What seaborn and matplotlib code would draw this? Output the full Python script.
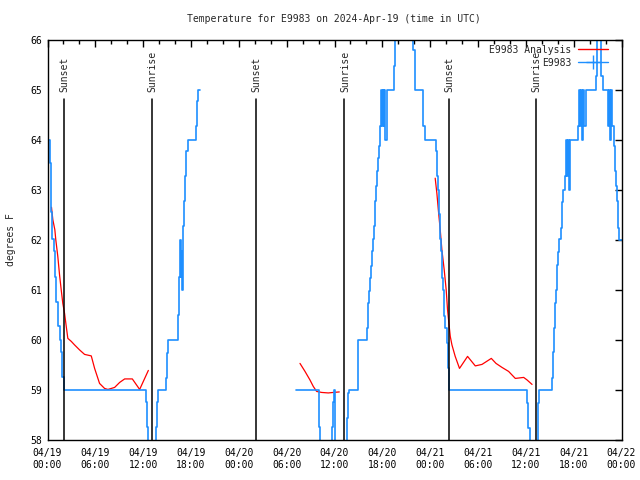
import numpy as np
import pandas as pd
import matplotlib
matplotlib.use("Agg")
import matplotlib.pyplot as plt
from matplotlib.lines import Line2D
from matplotlib.ticker import MultipleLocator
import seaborn as sns

# hours since 2024-04-19 00:00 UTC
# observed station temps (gnuplot "steps"), None = gap in the record
obs_hours = [0, 0.33, 0.46, 0.54, 0.8, 0.92, 1.05, 1.3, 1.55, 1.72, 1.88, 2.01,
             12.3, 12.44, 12.57, 13.6, 13.73, 13.85, 14.87, 15.0, 15.12, 16.4,
             16.55, 16.68, 16.75, 16.82, 16.9, 17.05, 17.17, 17.3, 17.42, 17.68,
             18.64, 18.77, 18.93, 19.14,
             None,
             31.16, 34.0, 34.1, 34.22, 35.7, 35.82, 35.95, 36.1, 37.6, 37.73, 37.86,
             38.9, 39.0, 40.1, 40.25, 40.37, 40.5, 40.63, 40.75, 40.88, 41.0, 41.12,
             41.25, 41.38, 41.5, 41.63, 41.76, 41.88, 41.95, 42.05, 42.15, 42.25,
             42.35, 42.56, 43.44, 43.6, 45.9, 46.15, 47.08, 47.15, 47.4, 48.7, 48.84,
             48.97, 49.09, 49.2, 49.34, 49.47, 49.6, 49.72, 49.84, 50.1, 50.22, 50.35,
             60.2, 60.33, 60.5, 61.5, 61.7, 63.25, 63.37, 63.5, 63.62, 63.75, 63.87,
             64.0, 64.12, 64.37, 64.5, 64.62, 64.87, 65.0, 65.12, 65.25, 65.37, 65.5,
             65.7, 66.5, 66.62, 66.75, 66.87, 67.0, 67.12, 67.25, 67.5, 68.8, 68.92,
             69.45, 69.7, 70.33, 70.45, 70.58, 70.7, 70.82, 71.05, 71.2, 71.32, 71.45,
             71.57, 71.7, 72.0]
obs_temps = [64.0, 63.53, 62.55, 62.01, 61.77, 61.25, 60.75, 60.27, 60.0, 59.75, 59.25, 59.0,
             58.75, 58.25, 57.5, 58.25, 58.75, 59.0, 59.23, 59.73, 60.0, 60.5,
             61.25, 62.0, 61.25, 61.77, 61.0, 62.27, 62.77, 63.27, 63.77, 64.0,
             64.27, 64.77, 65.0, 65.0,
             None,
             59.0, 58.75, 58.25, 57.5, 58.25, 58.75, 59.0, 57.5, 58.44, 58.93, 59.0,
             59.43, 60.0, 60.23, 60.73, 60.98, 61.23, 61.48, 61.77, 62.01, 62.27, 62.77,
             63.07, 63.38, 63.63, 63.87, 64.27, 65.0, 64.27, 65.0, 64.27, 65.0,
             64.0, 65.0, 65.47, 66.5, 65.8, 65.0, 64.77, 64.27, 64.0, 63.77, 63.27,
             63.0, 62.52, 62.01, 61.77, 61.23, 61.0, 60.48, 60.23, 59.93, 59.43, 59.0,
             58.73, 58.23, 57.5, 58.73, 59.0, 59.23, 59.75, 60.23, 60.73, 61.0, 61.5,
             61.75, 62.01, 62.23, 62.75, 63.0, 63.27, 64.0, 63.27, 64.0, 63.0, 64.0,
             64.0, 64.27, 65.0, 64.27, 65.0, 64.0, 65.0, 64.27, 65.0, 65.27, 66.5,
             65.27, 65.0, 64.27, 65.0, 64.0, 65.0, 64.27, 63.87, 63.37, 63.08, 62.77,
             62.23, 62.0, 62.0]

# analysis temps (plain lines), None = gap
ana_hours = [0.5, 0.67, 0.92, 1.04, 1.29, 1.51, 1.72, 1.92, 2.14, 2.35, 2.55, 2.98, 3.39,
             4.02, 4.65, 5.49, 5.91, 6.53, 7.16, 7.58, 8.42, 9.05, 9.68, 10.64, 11.56,
             12.19, 12.65,
             None,
             31.67, 32.3, 32.92, 33.34, 33.76, 34.39, 35.22, 35.85, 36.6,
             None,
             48.63, 48.84, 49.04, 49.26, 49.47, 49.76, 50.01, 50.18, 50.35, 50.52, 50.73,
             51.14, 51.68, 52.69, 53.66, 54.5, 55.67, 56.26, 57.01, 57.84, 58.68, 59.73,
             60.15, 60.78]
ana_temps = [62.65, 62.4, 62.2, 62.0, 61.67, 61.3, 61.0, 60.73, 60.53, 60.27, 60.03, 59.97, 59.9,
             59.8, 59.71, 59.68, 59.43, 59.13, 59.03, 59.01, 59.05, 59.15, 59.22, 59.22, 59.01,
             59.23, 59.39,
             None,
             59.53, 59.37, 59.2, 59.07, 58.97, 58.95, 58.94, 58.95, 58.96,
             None,
             63.23, 62.93, 62.57, 62.2, 61.8, 61.4, 61.0, 60.6, 60.33, 60.07, 59.9,
             59.67, 59.43, 59.67, 59.48, 59.51, 59.63, 59.53, 59.45, 59.37, 59.23, 59.25,
             59.2, 59.11]

sun_hours = [2.05, 13.1, 26.14, 37.23, 50.3, 61.23]
sun_labels = ["Sunset", "Sunrise", "Sunset", "Sunrise", "Sunset", "Sunrise"]

tick_hours = list(range(0, 73, 6))
tick_labels = ["04/19\n00:00", "04/19\n06:00", "04/19\n12:00", "04/19\n18:00",
               "04/20\n00:00", "04/20\n06:00", "04/20\n12:00", "04/20\n18:00",
               "04/21\n00:00", "04/21\n06:00", "04/21\n12:00", "04/21\n18:00",
               "04/22\n00:00"]

BLUE = "#1e8fff"
RED = "#ff0000"


def segments(hours, temps):
    # split the lists at None into separate frames
    out, cur = [], []
    for h, t in zip(hours, temps):
        if h is None:
            out.append(pd.DataFrame(cur, columns=["hour", "temp"]))
            cur = []
        else:
            cur.append((h, t))
    out.append(pd.DataFrame(cur, columns=["hour", "temp"]))
    return out


sns.set_theme(style="white")
plt.rcParams.update({
    "font.family": ["DejaVu Sans Mono"],
    "font.size": 7,
    "axes.edgecolor": "black",
    "axes.linewidth": 1.0,
    "xtick.direction": "in", "ytick.direction": "in",
    "xtick.top": True, "ytick.right": True,
    "xtick.color": "black", "ytick.color": "black",
})

fig = plt.figure(figsize=(6.4, 4.8), dpi=100)
ax = fig.add_axes([47.5 / 640, 1 - 440 / 480, 574 / 640, 400.5 / 480])

for seg in segments(ana_hours, ana_temps):
    sns.lineplot(data=seg, x="hour", y="temp", ax=ax, color=RED, linewidth=0.9)

for seg in segments(obs_hours, obs_temps):
    sns.lineplot(data=seg, x="hour", y="temp", ax=ax, color=BLUE, linewidth=1.2,
                 drawstyle="steps-post")

for h, lab in zip(sun_hours, sun_labels):
    ax.plot([h, h], [58, 64.82], color="black", linewidth=1.1)
    ax.text(h + 0.1, 64.96, lab, rotation=90, ha="center", va="bottom", fontsize=7)

ax.set_xlim(0, 72)
ax.set_ylim(58, 66)
ax.set_xticks(tick_hours)
ax.set_xticklabels(tick_labels)
ax.xaxis.set_minor_locator(MultipleLocator(2))
ax.set_yticks(range(58, 67))
ax.tick_params(axis="both", which="major", length=5, width=1, labelsize=7, pad=6)
ax.tick_params(axis="x", which="minor", length=3, width=1, top=True)
ax.tick_params(axis="y", pad=4)

ax.set_xlabel("")
ax.set_ylabel("degrees F", fontsize=7, labelpad=10)
fig.suptitle("Temperature for E9983 on 2024-Apr-19 (time in UTC)", fontsize=7,
             x=0.521, y=0.97)

handles = [Line2D([], [], color=RED, linewidth=1.0),
           Line2D([], [], color=BLUE, linewidth=1.0, marker="+", markersize=10,
                  markeredgewidth=1.0)]
ax.legend(handles, ["E9983 Analysis", "E9983"], loc="upper right", frameon=False,
          markerfirst=False, handlelength=3.0, handletextpad=0.7,
          labelspacing=0.3, borderaxespad=0.15,
          bbox_to_anchor=(0.985, 1.0), fontsize=7)

fig.savefig("out.png", dpi=100)
